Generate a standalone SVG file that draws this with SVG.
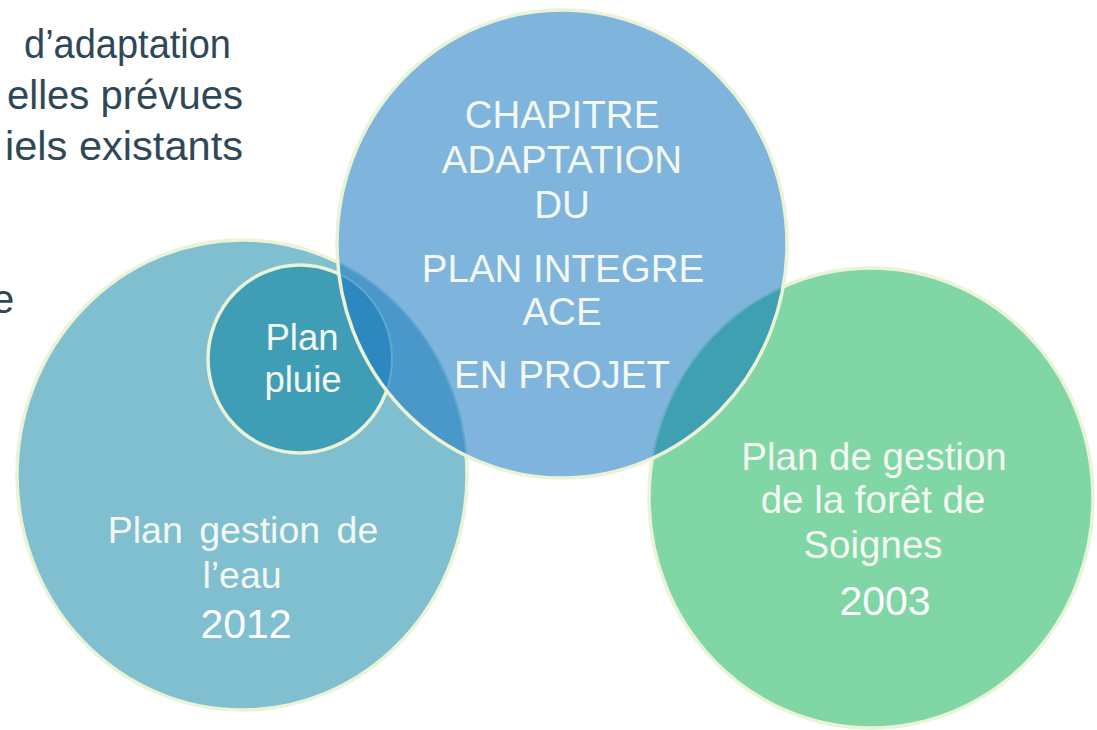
<svg xmlns="http://www.w3.org/2000/svg" width="1097" height="730" viewBox="0 0 1097 730">
<style>
.lbl{font-family:"Liberation Sans",Arial,sans-serif;fill:#F3F8F1;text-anchor:middle}
.yr{font-family:"Liberation Sans",Arial,sans-serif;fill:#FFFFFF;text-anchor:middle}
.side{font-family:"Liberation Sans",Arial,sans-serif;fill:#2F4858;font-size:40px}
.edge{fill:none;stroke:#EAF3D6;stroke-width:3.5}
.faint{fill:none;stroke-width:2}
</style>
<defs>
<clipPath id="clipTop"><ellipse cx="562" cy="244" rx="225" ry="234"/></clipPath>
</defs>
<rect width="1097" height="730" fill="#FFFFFF"/>

<g id="side-text">
<text class="side" x="24" y="58" textLength="207" lengthAdjust="spacingAndGlyphs">d’adaptation</text>
<text class="side" x="7" y="109" textLength="236" lengthAdjust="spacingAndGlyphs">elles prévues</text>
<text class="side" x="5" y="160" textLength="238" lengthAdjust="spacingAndGlyphs">iels existants</text>
<text class="side" x="-8" y="313">e</text>
</g>

<g id="node-eau">
<ellipse cx="242" cy="475" rx="225" ry="235" fill="#7FBFD0"/>
<ellipse class="edge" cx="242" cy="475" rx="225" ry="235"/>
</g>

<g id="node-pluie">
<ellipse cx="300" cy="359" rx="92" ry="94" fill="#3F9EB6"/>
<ellipse class="edge" cx="300" cy="359" rx="92" ry="94"/>
</g>

<g id="node-soignes">
<ellipse cx="871" cy="498" rx="222" ry="230" fill="#80D6A5"/>
<ellipse class="edge" cx="871" cy="498" rx="222" ry="230"/>
</g>

<g id="node-chapitre">
<ellipse cx="562" cy="244" rx="225" ry="234" fill="#7FB4DD"/>
<g clip-path="url(#clipTop)">
<ellipse cx="242" cy="475" rx="225" ry="235" fill="#4A98CA"/>
<ellipse cx="300" cy="359" rx="92" ry="94" fill="#2C88BE"/>
<ellipse cx="871" cy="498" rx="222" ry="230" fill="#3EA0B1"/>
<ellipse class="faint" cx="242" cy="475" rx="225" ry="235" stroke="#5FA6CF"/>
<ellipse class="faint" cx="300" cy="359" rx="92" ry="94" stroke="#5DA8D2"/>
<ellipse class="faint" cx="871" cy="498" rx="222" ry="230" stroke="#62B0C4"/>
</g>
<ellipse class="edge" cx="562" cy="244" rx="225" ry="234"/>
</g>

<g id="labels-chapitre">
<text class="lbl" font-size="38.5" x="562" y="128">CHAPITRE</text>
<text class="lbl" font-size="38.5" x="562" y="173">ADAPTATION</text>
<text class="lbl" font-size="38.5" x="562" y="218">DU</text>
<text class="lbl" font-size="38.5" x="563" y="282">PLAN INTEGRE</text>
<text class="lbl" font-size="38.5" x="562" y="325">ACE</text>
<text class="lbl" font-size="38.5" x="562" y="388">EN PROJET</text>
</g>

<g id="labels-pluie">
<text class="lbl" font-size="36.5" x="302" y="350">Plan</text>
<text class="lbl" font-size="36.5" x="303" y="392">pluie</text>
</g>

<g id="labels-eau">
<text class="lbl" font-size="37.5" x="243" y="543" word-spacing="6">Plan gestion de</text>
<text class="lbl" font-size="37.5" x="242" y="588">l’eau</text>
<text class="yr" font-size="41" x="246" y="638">2012</text>
</g>

<g id="labels-soignes">
<text class="lbl" font-size="38.5" x="874" y="470">Plan de gestion</text>
<text class="lbl" font-size="38.5" x="873" y="513">de la forêt de</text>
<text class="lbl" font-size="38.5" x="873" y="558">Soignes</text>
<text class="yr" font-size="41" x="885" y="615">2003</text>
</g>
</svg>
